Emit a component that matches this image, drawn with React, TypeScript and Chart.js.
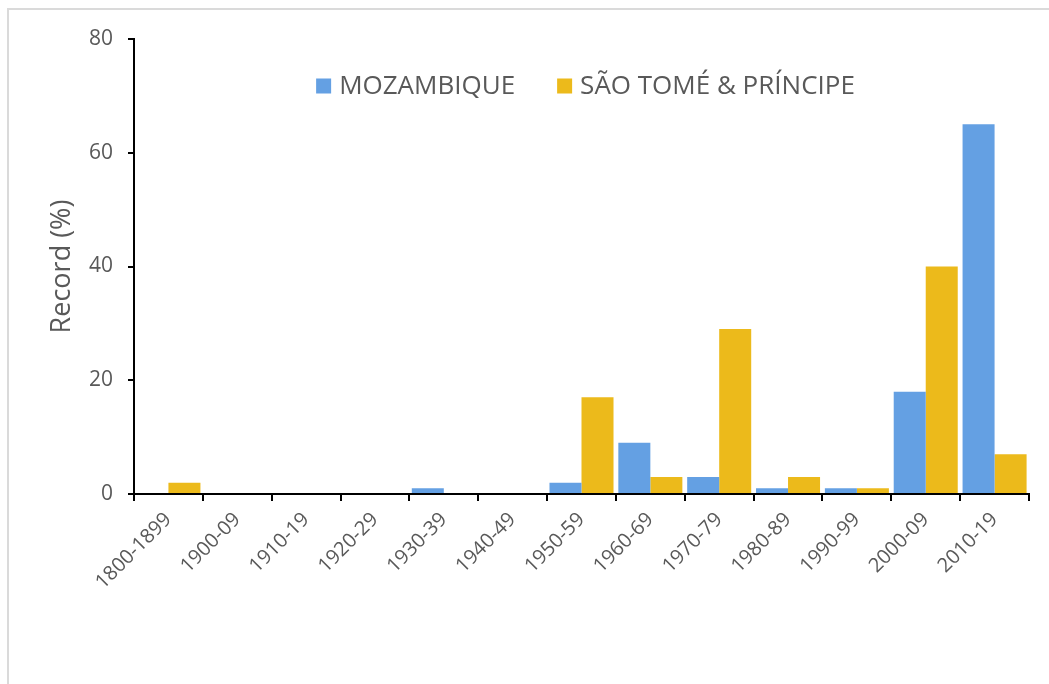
import React, { useEffect, useRef } from "react";
import { Chart, registerables } from "chart.js";

Chart.register(...registerables);

const categories = [
  "1800-1899", "1900-09", "1910-19", "1920-29", "1930-39", "1940-49", "1950-59",
  "1960-69", "1970-79", "1980-89", "1990-99", "2000-09", "2010-19",
];
const mozambique = [0, 0, 0, 0, 1, 0, 2, 9, 3, 1, 1, 18, 65];
const saoTome = [2, 0, 0, 0, 0, 0, 17, 3, 29, 3, 1, 40, 7];
const seriesNames = ["MOZAMBIQUE", "SÃO TOMÉ & PRÍNCIPE"];
const yTicks = [0, 20, 40, 60, 80];
const yTitle = "Record (%)";

const FONT = "'Open Sans', 'Liberation Sans', sans-serif";
const GREY = "#595959";
const W = 1039;
const H = 674;

// Legend drawn inside the plot area, horizontally, like the reference
const innerLegend = {
  id: "innerLegend",
  afterDraw(chart: any) {
    const ctx = chart.ctx as CanvasRenderingContext2D;
    const area = chart.chartArea;
    const box = 15;
    const boxGap = 8;
    const itemGap = 42;
    ctx.save();
    ctx.font = `26px ${FONT}`;
    ctx.textBaseline = "middle";
    ctx.textAlign = "left";
    const items = chart.data.datasets.map((ds: any) => ({
      label: ds.label as string,
      color: ds.backgroundColor as string,
      w: ctx.measureText(ds.label).width,
    }));
    const total =
      items.reduce((s: number, it: any) => s + box + boxGap + it.w, 0) +
      itemGap * (items.length - 1);
    let x = (area.left + area.right) / 2 - total / 2 + 4;
    const y = area.top + 47;
    for (const it of items) {
      ctx.fillStyle = it.color;
      ctx.fillRect(x, y - box / 2, box, box);
      x += box + boxGap;
      ctx.fillStyle = GREY;
      ctx.fillText(it.label, x, y + 1);
      x += it.w + itemGap;
    }
    ctx.restore();
  },
};

export default function App() {
  const ref = useRef<HTMLCanvasElement | null>(null);
  useEffect(() => {
    if (!ref.current) return;
    const chart = new Chart(ref.current, {
      type: "bar",
      data: {
        labels: categories,
        datasets: [
          {
            label: seriesNames[0],
            data: mozambique,
            backgroundColor: "#64a0e3",
            categoryPercentage: 0.93,
            barPercentage: 1,
          },
          {
            label: seriesNames[1],
            data: saoTome,
            backgroundColor: "#ecba1b",
            categoryPercentage: 0.93,
            barPercentage: 1,
          },
        ],
      },
      plugins: [innerLegend],
      options: {
        responsive: false,
        animation: false,
        layout: { padding: { top: 29, right: 20, left: 0, bottom: 0 } },
        plugins: {
          legend: { display: false },
          tooltip: { enabled: false },
        },
        scales: {
          x: {
            grid: {
              drawOnChartArea: false,
              drawTicks: true,
              tickLength: 7,
              color: "#000",
              lineWidth: 2,
              offset: true,
            },
            border: { color: "#000", width: 2 },
            ticks: {
              color: GREY,
              font: { family: FONT, size: 20 },
              minRotation: 45,
              maxRotation: 45,
              padding: 7,
              autoSkip: false,
            },
            afterFit: (scale: any) => {
              scale.height = H - 484;
            },
          },
          y: {
            min: 0,
            max: 80,
            afterBuildTicks: (scale: any) => {
              scale.ticks = yTicks.map((v) => ({ value: v }));
            },
            grid: {
              drawOnChartArea: false,
              drawTicks: true,
              tickLength: 6,
              color: "#000",
              lineWidth: 2,
            },
            border: { color: "#000", width: 2 },
            ticks: {
              color: GREY,
              font: { family: FONT, size: 21 },
              padding: 15,
            },
            title: {
              display: true,
              text: yTitle,
              color: GREY,
              font: { family: FONT, size: 27 },
              padding: { top: 36, bottom: 0 },
            },
            afterFit: (scale: any) => {
              scale.width = 124;
            },
          },
        },
      },
    });
    return () => chart.destroy();
  }, []);

  return (
    <div
      style={{
        position: "fixed",
        top: 8,
        left: 7,
        right: 0,
        bottom: 0,
        borderTop: "2px solid #dadada",
        borderLeft: "2px solid #dadada",
        background: "#fff",
        overflow: "hidden",
      }}
    >
      <canvas ref={ref} width={W} height={H} style={{ display: "block", marginLeft: 1 }} />
    </div>
  );
}
